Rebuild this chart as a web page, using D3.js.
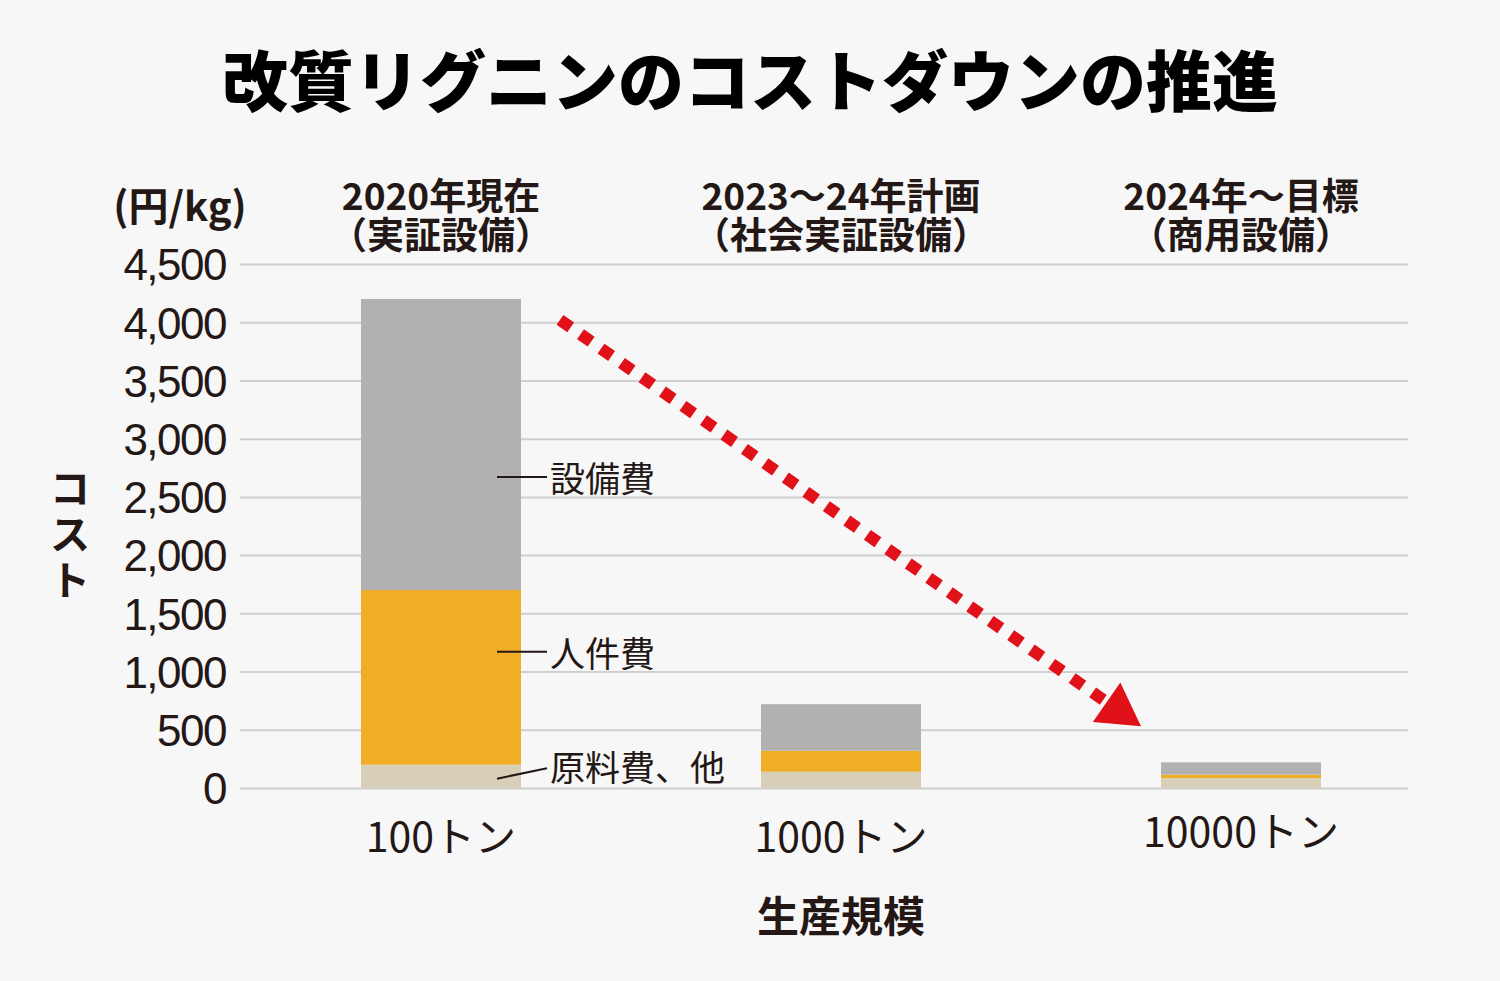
<!DOCTYPE html>
<meta charset="utf-8">
<style>
body { margin: 0; background: #f7f7f7; }
svg { display: block; background: #f7f7f7; }
text { fill: #231815; font-family: "Noto Sans CJK JP", sans-serif; }
.title { font-size: 66px; font-weight: 900; fill: #000; }
.head { font-size: 37px; font-weight: 700; }
.unit { font-size: 40px; font-weight: 700; }
.tick text { font-family: "Liberation Sans", Arial, sans-serif; font-size: 44px; fill: #231815; letter-spacing: -1.5px; }
.tick line { stroke: #cfcfcf; stroke-width: 2; }
.xlab { font-size: 41px; }
.seglab { font-size: 35px; }
.axtitle { font-size: 42px; font-weight: 700; }
.vtitle { font-size: 40px; font-weight: 700; }
</style>
<svg width="1500" height="981"></svg>
<script src="https://d3js.org/d3.v7.min.js"></script>
<script>

// data (円/kg)
var categories = ["100トン", "1000トン", "10000トン"],
    headers1 = ["2020年現在", "2023〜24年計画", "2024年〜目標"],
    headers2 = ["（実証設備）", "（社会実証設備）", "（商用設備）"],
    keys = ["原料費、他", "人件費", "設備費"],
    material = [200, 140, 85],
    labor = [1500, 180, 30],
    equipment = [2500, 400, 105],
    yTicks = [0, 500, 1000, 1500, 2000, 2500, 3000, 3500, 4000, 4500];

var colors = { "原料費、他": "#d8cfb8", "人件費": "#efae26", "設備費": "#b0b1b0" };

var rows = categories.map(function(c, i) {
  return { cat: c, "原料費、他": material[i], "人件費": labor[i], "設備費": equipment[i] };
});

var svg = d3.select("svg"),
    left = 240,
    right = 1408;

var y = d3.scaleLinear().domain([0, 4500]).range([788, 264]);
var x = d3.scaleBand().domain(categories).range([241, 1441])
    .paddingInner(0.6).paddingOuter(0.3);

// title
svg.append("text").attr("class", "title")
    .attr("x", 750).attr("y", 106).attr("text-anchor", "middle")
    .text("改質リグニンのコストダウンの推進");

// grid + y labels
var gAxis = svg.append("g")
    .attr("transform", "translate(" + left + ",0)")
    .call(d3.axisLeft(y).tickValues(yTicks).tickFormat(d3.format(","))
      .tickSize(-(right - left)).tickPadding(14));
gAxis.select(".domain").remove();
gAxis.selectAll(".tick text").attr("dy", "0.36em");

// unit
svg.append("text").attr("class", "unit")
    .attr("x", 180).attr("y", 221).attr("text-anchor", "middle")
    .text("(円/kg)");

// vertical axis title
var vt = svg.append("text").attr("class", "vtitle").attr("text-anchor", "middle");
["コ", "ス", "ト"].forEach(function(ch, i) {
  vt.append("tspan").attr("x", 70).attr("y", 503 + i * 46).text(ch);
});

// column headers
svg.append("g").selectAll("text")
  .data(categories)
  .join("text")
    .attr("class", "head")
    .attr("text-anchor", "middle")
    .attr("x", function(d) { return x(d) + x.bandwidth() / 2; })
    .attr("y", 210)
    .text(function(d, i) { return headers1[i]; });

svg.append("g").selectAll("text")
  .data(categories)
  .join("text")
    .attr("class", "head")
    .attr("text-anchor", "middle")
    .attr("x", function(d) { return x(d) + x.bandwidth() / 2; })
    .attr("y", 249)
    .text(function(d, i) { return headers2[i]; });

// stacked bars
var series = d3.stack().keys(keys)(rows);

svg.append("g").selectAll("g")
  .data(series)
  .join("g")
    .attr("fill", function(d) { return colors[d.key]; })
  .selectAll("rect")
  .data(function(d) { return d; })
  .join("rect")
    .attr("x", function(d) { return x(d.data.cat); })
    .attr("width", x.bandwidth())
    .attr("y", function(d) { return y(d[1]); })
    .attr("height", function(d) { return y(d[0]) - y(d[1]); });

// segment labels on the first bar
var first = categories[0],
    lx0 = x(first) + 136,
    lx1 = lx0 + 50;
var segLabels = [
  { text: "設備費", y1: y(2670), y2: y(2670), ty: y(2670) + 15 },
  { text: "人件費", y1: y(1170), y2: y(1170), ty: y(1170) + 15 },
  { text: "原料費、他", y1: y(80), y2: y(170), ty: y(170) + 13 }
];
var gl = svg.append("g");
gl.selectAll("line").data(segLabels).join("line")
    .attr("x1", lx0).attr("x2", lx1)
    .attr("y1", function(d) { return d.y1; })
    .attr("y2", function(d) { return d.y2; })
    .attr("stroke", "#231815").attr("stroke-width", 2);
gl.selectAll("text").data(segLabels).join("text")
    .attr("class", "seglab")
    .attr("x", lx1 + 3)
    .attr("y", function(d) { return d.ty; })
    .text(function(d) { return d.text; });

// x labels
svg.append("g").selectAll("text")
  .data(categories)
  .join("text")
    .attr("class", "xlab")
    .attr("text-anchor", "middle")
    .attr("x", function(d) { return x(d) + x.bandwidth() / 2; })
    .attr("y", function(d, i) { return i === 2 ? 847 : 852; })
    .text(function(d) { return d; });

svg.append("text").attr("class", "axtitle")
    .attr("x", 841).attr("y", 932).attr("text-anchor", "middle")
    .text("生産規模");

// red dashed trend arrow
var ax0 = 560, ay0 = y(4020), tipX = 1141, tipY = y(530);
var ang = Math.atan2(tipY - ay0, tipX - ax0),
    headLen = 42, headHalf = 24;
var bx = tipX - headLen * Math.cos(ang), by = tipY - headLen * Math.sin(ang);

svg.append("line")
    .attr("x1", ax0).attr("y1", ay0)
    .attr("x2", bx - 4 * Math.cos(ang)).attr("y2", by - 4 * Math.sin(ang))
    .attr("stroke", "#e1111a").attr("stroke-width", 12)
    .attr("stroke-dasharray", "13,12");

svg.append("path")
    .attr("d", "M" + tipX + "," + tipY +
      "L" + (bx + headHalf * Math.sin(ang)) + "," + (by - headHalf * Math.cos(ang)) +
      "L" + (bx - headHalf * Math.sin(ang)) + "," + (by + headHalf * Math.cos(ang)) + "Z")
    .attr("fill", "#e1111a");

</script>
